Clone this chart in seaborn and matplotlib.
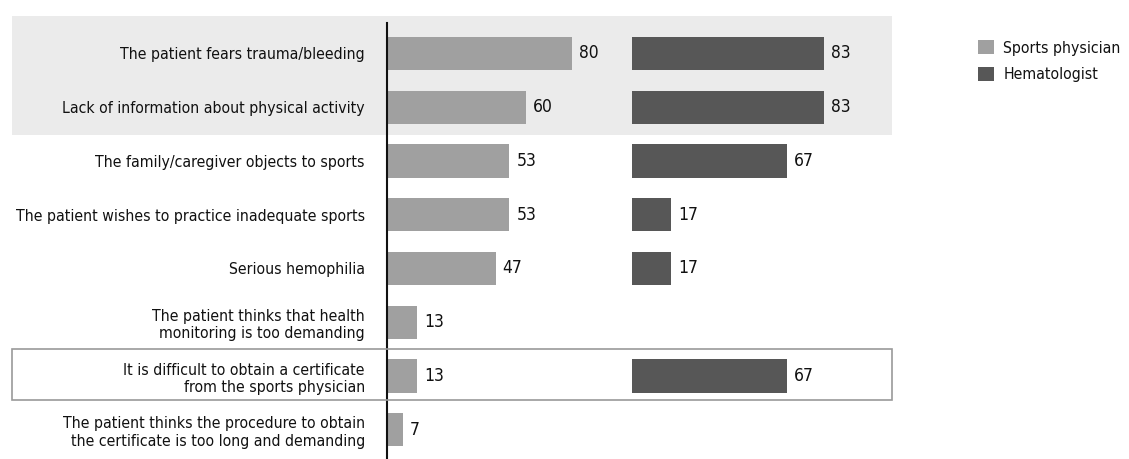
import matplotlib

matplotlib.use("Agg")

import matplotlib.pyplot as plt
import matplotlib.transforms as mtransforms
import numpy as np
import pandas as pd
import seaborn as sns
from matplotlib.patches import Patch, Rectangle

REASONS = [
    "The patient fears trauma/bleeding",
    "Lack of information about physical activity",
    "The family/caregiver objects to sports",
    "The patient wishes to practice inadequate sports",
    "Serious hemophilia",
    "The patient thinks that health\nmonitoring is too demanding",
    "It is difficult to obtain a certificate\nfrom the sports physician",
    "The patient thinks the procedure to obtain\nthe certificate is too long and demanding",
]
SPORTS_PHYSICIAN = [80, 60, 53, 53, 47, 13, 13, 7]
HEMATOLOGIST = [83, 83, 67, 17, 17, np.nan, 67, np.nan]
SERIES = ["Sports physician", "Hematologist"]
COLORS = ["#a0a0a0", "#575757"]

sns.set_theme(style="white")
plt.rcParams["font.family"] = ["DejaVu Sans"]
plt.rcParams["font.stretch"] = "condensed"
plt.rcParams["text.color"] = "#111111"

W, H = 1129, 459
fig = plt.figure(figsize=(W / 100, H / 100), dpi=100)
fig.patch.set_facecolor("white")


def px_box(x0, x1, y0, y1):
    return [x0 / W, 1 - y1 / H, (x1 - x0) / W, (y1 - y0) / H]


scale = 2.31  # pixels per percentage point
ax_l = fig.add_axes(px_box(387, 620, 23, 459))
ax_r = fig.add_axes(px_box(632, 892, 23, 459))

frame = pd.DataFrame({"reason": REASONS, SERIES[0]: SPORTS_PHYSICIAN, SERIES[1]: HEMATOLOGIST})
ylim = (7.544, -0.567)
for ax, series, color, width in [
    (ax_l, SERIES[0], COLORS[0], 233),
    (ax_r, SERIES[1], COLORS[1], 260),
]:
    sns.barplot(data=frame, y="reason", x=series, color=color, orient="h",
                width=0.62, saturation=1, linewidth=0, ax=ax)
    ax.set_facecolor("none")
    ax.set_xlim(0, width / scale)
    ax.set_ylim(*ylim)
    ax.set(xlabel="", ylabel="")
    ax.set_xticks([])
    for spine in ax.spines.values():
        spine.set_visible(False)
    for i, v in enumerate(frame[series]):
        if not np.isnan(v):
            ax.text(v + 3, i, f"{v:.0f}", va="center", ha="left", fontsize=12.5,
                    color="#111111")

ax_r.set_yticks([])
ax_l.spines["left"].set_visible(True)
ax_l.spines["left"].set_color("#111111")
ax_l.spines["left"].set_linewidth(1.5)
ax_l.tick_params(axis="y", length=0, pad=16, labelsize=11.3, labelcolor="#111111")
for lbl in ax_l.get_yticklabels():
    lbl.set_horizontalalignment("right")
    lbl.set_multialignment("right")

# highlight bands spanning the label area and both panels
trans = mtransforms.blended_transform_factory(fig.transFigure, ax_l.transData)
x0, x1 = 12 / W, 892 / W
fig.patches.append(Rectangle((x0, -0.70), x1 - x0, 2.22, transform=trans,
                             facecolor="#ebebeb", edgecolor="none", zorder=-1))
fig.patches.append(Rectangle((x0, 5.50), x1 - x0, 0.95, transform=trans,
                             facecolor="none", edgecolor="#9a9a9a", linewidth=1.2, zorder=3))

handles = [Patch(facecolor=c, edgecolor="none", label=s) for s, c in zip(SERIES, COLORS)]
fig.legend(handles=handles, loc="upper left", bbox_to_anchor=(972 / W, 1 - 34 / H),
           frameon=False, fontsize=11.3, handlelength=1.0, handleheight=1.0,
           handletextpad=0.6, labelspacing=0.7, borderaxespad=0)

fig.savefig("out.png", dpi=100, facecolor="white")
